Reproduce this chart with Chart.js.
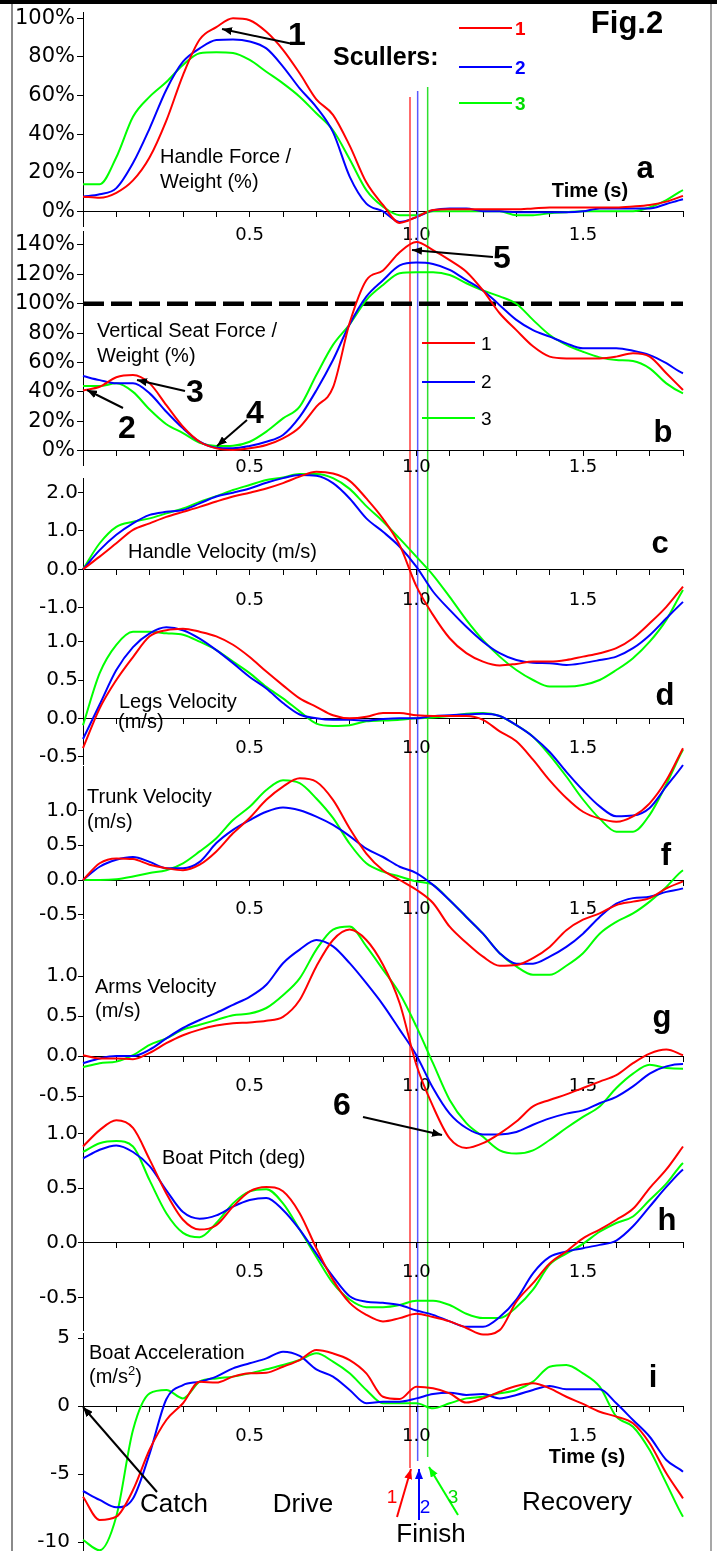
<!DOCTYPE html>
<html lang="en">
<head>
<meta charset="UTF-8" />
<title>Fig.2 Scullers</title>
<script src="https://cdn.jsdelivr.net/npm/chart.js"></script>
<style>
  body { margin: 0; background: #fff; }
  #page { position: relative; width: 717px; height: 1551px; overflow: hidden; background: #fff; }
  #page canvas { position: absolute; left: 0; top: -50px; }
  #overlay { position: absolute; left: 0; top: 0; font-family: 'Liberation Sans', Arial, sans-serif; }
  #overlay text { fill: #000; }
  .ttl { font-size: 20px; }
  .lt { font-size: 31px; font-weight: bold; }
  .num { font-size: 32px; font-weight: bold; }
  .phase { font-size: 26px; }
</style>
</head>
<body>
<div id="page">
  <canvas id="pa" width="717" height="1700"></canvas>
  <canvas id="pb" width="717" height="1700"></canvas>
  <canvas id="pc" width="717" height="1700"></canvas>
  <canvas id="pd" width="717" height="1700"></canvas>
  <canvas id="pf" width="717" height="1700"></canvas>
  <canvas id="pg" width="717" height="1700"></canvas>
  <canvas id="ph" width="717" height="1700"></canvas>
  <canvas id="pi" width="717" height="1700"></canvas>

  <svg id="overlay" width="717" height="1551">
    <defs>
      <marker id="hk" viewBox="0 0 10 8" refX="10" refY="4" markerWidth="5" markerHeight="4" orient="auto"><path d="M0,0L10,4L0,8z" fill="#000"/></marker>
      <marker id="hr" viewBox="0 0 10 8" refX="10" refY="4" markerWidth="5" markerHeight="4" orient="auto"><path d="M0,0L10,4L0,8z" fill="#ff0000"/></marker>
      <marker id="hb" viewBox="0 0 10 8" refX="10" refY="4" markerWidth="5" markerHeight="4" orient="auto"><path d="M0,0L10,4L0,8z" fill="#0000ff"/></marker>
      <marker id="hg" viewBox="0 0 10 8" refX="10" refY="4" markerWidth="5" markerHeight="4" orient="auto"><path d="M0,0L10,4L0,8z" fill="#00ff00"/></marker>
    </defs>

    <!-- frame -->
    <rect x="0" y="0" width="717" height="4" fill="#000"/>
    <line x1="12" y1="4" x2="12" y2="1551" stroke="#8a8a8a" stroke-width="2"/>
    <line x1="711" y1="4" x2="711" y2="1551" stroke="#8a8a8a" stroke-width="1.5"/>

    <!-- heading + legend -->
    <text x="627" y="33" text-anchor="middle" style="font-size:31px;font-weight:bold">Fig.2</text>
    <text x="333" y="65" style="font-size:25px;font-weight:bold">Scullers:</text>
    <line x1="459" y1="28" x2="512" y2="28" stroke="#ff0000" stroke-width="2"/>
    <line x1="459" y1="67" x2="512" y2="67" stroke="#0000ff" stroke-width="2"/>
    <line x1="459" y1="103" x2="512" y2="103" stroke="#00ff00" stroke-width="2"/>
    <text x="515" y="35" style="font-size:19px;font-weight:bold;fill:#ff0000">1</text>
    <text x="515" y="74" style="font-size:19px;font-weight:bold;fill:#0000ff">2</text>
    <text x="515" y="110" style="font-size:19px;font-weight:bold;fill:#00dd00">3</text>

    <line x1="422" y1="343" x2="475" y2="343" stroke="#ff0000" stroke-width="2"/>
    <line x1="422" y1="382" x2="475" y2="382" stroke="#0000ff" stroke-width="2"/>
    <line x1="422" y1="418" x2="475" y2="418" stroke="#00ff00" stroke-width="2"/>
    <text x="481" y="350" style="font-size:19px">1</text>
    <text x="481" y="388" style="font-size:19px">2</text>
    <text x="481" y="425" style="font-size:19px">3</text>

    <!-- panel titles -->
    <text class="ttl" x="160" y="163">Handle Force /</text>
    <text class="ttl" x="160" y="188">Weight (%)</text>
    <text class="ttl" x="97" y="337">Vertical Seat Force /</text>
    <text class="ttl" x="97" y="362">Weight (%)</text>
    <text class="ttl" x="128" y="558">Handle Velocity (m/s)</text>
    <text class="ttl" x="119" y="708">Legs Velocity</text>
    <text class="ttl" x="118" y="728">(m/s)</text>
    <text class="ttl" x="87" y="803">Trunk Velocity</text>
    <text class="ttl" x="87" y="828">(m/s)</text>
    <text class="ttl" x="95" y="993">Arms Velocity</text>
    <text class="ttl" x="95" y="1017">(m/s)</text>
    <text class="ttl" x="162" y="1164">Boat Pitch (deg)</text>
    <text class="ttl" x="89" y="1359">Boat Acceleration</text>
    <text class="ttl" x="89" y="1383">(m/s<tspan dy="-8" style="font-size:13px">2</tspan><tspan dy="8">)</tspan></text>

    <text x="590" y="197" text-anchor="middle" style="font-size:20px;font-weight:bold">Time (s)</text>
    <text x="587" y="1463" text-anchor="middle" style="font-size:20px;font-weight:bold">Time (s)</text>

    <!-- panel letters -->
    <text class="lt" x="645" y="178" text-anchor="middle">a</text>
    <text class="lt" x="663" y="442" text-anchor="middle">b</text>
    <text class="lt" x="660" y="553" text-anchor="middle">c</text>
    <text class="lt" x="665" y="705" text-anchor="middle">d</text>
    <text class="lt" x="666" y="865" text-anchor="middle">f</text>
    <text class="lt" x="662" y="1027" text-anchor="middle">g</text>
    <text class="lt" x="667" y="1230" text-anchor="middle">h</text>
    <text class="lt" x="653" y="1387" text-anchor="middle">i</text>

    <!-- numbered remarks -->
    <text class="num" x="297" y="45" text-anchor="middle">1</text>
    <line x1="293" y1="44" x2="222" y2="29" stroke="#000" stroke-width="2" marker-end="url(#hk)"/>
    <text class="num" x="502" y="268" text-anchor="middle">5</text>
    <line x1="493" y1="257" x2="412" y2="250" stroke="#000" stroke-width="2" marker-end="url(#hk)"/>
    <text class="num" x="195" y="402" text-anchor="middle">3</text>
    <line x1="185" y1="391" x2="137" y2="380" stroke="#000" stroke-width="2" marker-end="url(#hk)"/>
    <text class="num" x="127" y="438" text-anchor="middle">2</text>
    <line x1="123" y1="408" x2="87" y2="390" stroke="#000" stroke-width="2" marker-end="url(#hk)"/>
    <text class="num" x="255" y="423" text-anchor="middle">4</text>
    <line x1="247" y1="420" x2="217" y2="446" stroke="#000" stroke-width="2" marker-end="url(#hk)"/>
    <text class="num" x="342" y="1115" text-anchor="middle">6</text>
    <line x1="363" y1="1117" x2="442" y2="1135" stroke="#000" stroke-width="2" marker-end="url(#hk)"/>

    <!-- stroke phases -->
    <text class="phase" x="174" y="1512" text-anchor="middle">Catch</text>
    <line x1="157" y1="1492" x2="83" y2="1407" stroke="#000" stroke-width="2" marker-end="url(#hk)"/>
    <text class="phase" x="303" y="1512" text-anchor="middle">Drive</text>
    <text class="phase" x="577" y="1510" text-anchor="middle">Recovery</text>
    <text class="phase" x="431" y="1542" text-anchor="middle">Finish</text>
    <line x1="397" y1="1517" x2="411" y2="1469" stroke="#ff0000" stroke-width="2" marker-end="url(#hr)"/>
    <line x1="419" y1="1520" x2="419" y2="1469" stroke="#0000ff" stroke-width="2" marker-end="url(#hb)"/>
    <line x1="458" y1="1515" x2="429" y2="1467" stroke="#00ff00" stroke-width="2" marker-end="url(#hg)"/>
    <text x="392" y="1503" text-anchor="middle" style="font-size:19px;fill:#ff0000">1</text>
    <text x="425" y="1513" text-anchor="middle" style="font-size:19px;fill:#0000ff">2</text>
    <text x="453" y="1503" text-anchor="middle" style="font-size:19px;fill:#00dd00">3</text>
  </svg>
</div>

<script>
  // time base (s), shared by all panels
  const time = [0, 0.05, 0.1, 0.15, 0.2, 0.25, 0.3, 0.35, 0.4, 0.45, 0.5, 0.55, 0.6, 0.65, 0.7, 0.75, 0.8, 0.85, 0.9, 0.95,
                1.0, 1.05, 1.1, 1.15, 1.2, 1.25, 1.3, 1.35, 1.4, 1.45, 1.5, 1.55, 1.6, 1.65, 1.7, 1.75, 1.8, 1.85];
  const scullers = ['1', '2', '3'];
  const finishTimes = [0.981, 1.004, 1.034];
  const weightLevel = 100;

  // a - handle force / weight (%)
  const force1 = [7.6, 7, 9.6, 16, 28, 47, 70.6, 89, 95.4, 100, 99, 93, 83.7, 71.5, 58, 50, 34, 15, 3.3, -6, -3, 0.7, 1, 1, 1, 1, 1, 1.5, 2, 2, 2, 2, 2, 2.5, 3.3, 5, 8, null];
  const force2 = [7.6, 8.8, 12, 25, 43, 63, 77.5, 84.4, 88.7, 89, 88, 84.4, 75, 63.7, 54, 41, 18, 4, 0, -5.5, -3, 0.5, 1.5, 1.5, 0, 0, -0.5, -0.5, -0.5, -0.5, 0, 1.5, 1.5, 1.5, 1.5, 3.8, 6.2, 8];
  const force3 = [14, 14, 28, 49, 59.4, 67, 75.8, 81.9, 82.4, 82, 78.4, 72.3, 66.3, 59.4, 50.8, 42, 27, 11, 2.4, -2, -2, 0, 0, 0, 0, 0, -2, -2, -1, -0.5, 0, 0, 0, 0, 2, 5.8, 11, 14];

  // b - vertical seat force / weight (%)
  const seat1 = [41, 43.5, 50, 51.5, 45.8, 31, 16.3, 6.1, 1.6, 0.5, 1.6, 3.9, 8.4, 16, 30, 43, 87, 116, 122.6, 135, 142, 136.5, 129.7, 121.8, 109, 93.5, 82, 71, 64, 62.8, 62.8, 62.8, 64, 66.3, 64, 52.7, 41.3, null];
  const seat2 = [50.8, 48, 45.8, 45.8, 39, 26.5, 15.2, 6.1, 2, 1.6, 3.2, 6.1, 10.7, 23, 41, 61.7, 86, 104.8, 116, 126, 128, 127, 123, 116, 109, 99, 89, 82, 77.6, 73, 69.7, 69.7, 69.7, 68, 65, 59.5, 52.7, 50.8];
  const seat3 = [44, 44, 45.8, 40, 28, 18, 12, 5.4, 3.2, 3.4, 6.1, 13, 22, 30, 51.5, 72, 86, 102.5, 112.7, 120.7, 121.4, 121.4, 119.5, 113.9, 109, 105, 100, 89, 78.7, 72, 67.3, 63.5, 61.7, 61, 56, 45.8, 39, 36];

  // c - handle velocity (m/s)
  const handle1 = [0, 0.33, 0.68, 1.03, 1.2, 1.37, 1.5, 1.63, 1.77, 1.9, 2.0, 2.11, 2.25, 2.42, 2.55, 2.5, 2.31, 1.85, 1.32, 0.63, -0.44, -1.19, -1.8, -2.19, -2.41, -2.51, -2.47, -2.41, -2.41, -2.37, -2.28, -2.19, -2.06, -1.8, -1.41, -0.98, -0.45, null];
  const handle2 = [0, 0.5, 0.9, 1.2, 1.42, 1.5, 1.55, 1.72, 1.9, 2.0, 2.11, 2.26, 2.38, 2.46, 2.44, 2.25, 1.85, 1.33, 0.98, 0.59, 0.07, -0.58, -1.06, -1.5, -1.89, -2.19, -2.37, -2.44, -2.45, -2.5, -2.45, -2.37, -2.28, -2.06, -1.72, -1.28, -0.85, -0.45];
  const handle3 = [0, 0.68, 1.11, 1.24, 1.33, 1.46, 1.59, 1.76, 1.91, 2.07, 2.2, 2.33, 2.4, 2.49, 2.49, 2.38, 2.1, 1.65, 1.25, 0.8, 0.33, -0.15, -0.72, -1.32, -1.85, -2.28, -2.63, -2.89, -3.06, -3.06, -3.02, -2.89, -2.63, -2.32, -1.89, -1.32, -0.54, 0.1];

  // d - legs velocity (m/s)
  const legs1 = [-0.39, 0.13, 0.5, 0.8, 1.07, 1.15, 1.17, 1.13, 1.07, 0.96, 0.8, 0.61, 0.43, 0.26, 0.15, 0.04, 0, 0.02, 0.07, 0.07, 0.04, 0.03, 0.03, 0.03, -0.02, -0.17, -0.3, -0.54, -0.81, -1.04, -1.22, -1.31, -1.35, -1.28, -1.11, -0.81, -0.39, null];
  const legs2 = [-0.27, 0.18, 0.63, 0.93, 1.11, 1.19, 1.15, 1.04, 0.89, 0.72, 0.54, 0.39, 0.2, 0.05, 0, -0.02, -0.02, -0.03, -0.01, 0, 0, 0.03, 0.04, 0.05, 0.06, 0.03, -0.09, -0.24, -0.44, -0.7, -0.94, -1.15, -1.28, -1.27, -1.17, -0.89, -0.61, -0.27];
  const legs3 = [-0.09, 0.59, 0.96, 1.13, 1.13, 1.11, 1.09, 1.0, 0.89, 0.74, 0.59, 0.41, 0.26, 0.09, -0.07, -0.1, -0.09, -0.04, -0.03, -0.02, 0, 0.01, 0.03, 0.06, 0.07, 0.03, -0.09, -0.24, -0.48, -0.76, -1.06, -1.31, -1.48, -1.48, -1.26, -0.86, -0.41, -0.09];

  // f - trunk velocity (m/s)
  const trunk1 = [0, 0.24, 0.31, 0.3, 0.22, 0.17, 0.14, 0.22, 0.41, 0.67, 0.89, 1.15, 1.34, 1.46, 1.41, 1.15, 0.74, 0.38, 0.14, 0, -0.14, -0.33, -0.67, -0.9, -1.1, -1.23, -1.22, -1.12, -0.96, -0.72, -0.57, -0.48, -0.36, -0.31, -0.26, -0.12, -0.02, null];
  const trunk2 = [0, 0.19, 0.29, 0.33, 0.26, 0.17, 0.17, 0.26, 0.53, 0.72, 0.86, 0.98, 1.04, 1.0, 0.91, 0.79, 0.63, 0.45, 0.33, 0.19, 0.1, -0.07, -0.29, -0.53, -0.77, -1.05, -1.2, -1.2, -1.1, -0.96, -0.77, -0.53, -0.34, -0.26, -0.24, -0.17, -0.12, -0.02];
  const trunk3 = [0, 0, 0.01, 0.05, 0.1, 0.14, 0.24, 0.41, 0.6, 0.86, 1.05, 1.29, 1.43, 1.39, 1.17, 0.89, 0.52, 0.24, 0.12, 0.05, -0.02, -0.07, -0.29, -0.53, -0.77, -1.05, -1.24, -1.36, -1.36, -1.23, -1.05, -0.77, -0.6, -0.48, -0.31, -0.1, 0.14, 0.2];

  // g - arms velocity (m/s)
  const arms1 = [0.01, -0.03, -0.03, -0.04, 0.04, 0.16, 0.26, 0.33, 0.38, 0.41, 0.42, 0.44, 0.49, 0.7, 1.12, 1.45, 1.58, 1.45, 1.14, 0.66, -0.11, -0.63, -1.03, -1.15, -1.09, -0.97, -0.82, -0.63, -0.55, -0.48, -0.4, -0.32, -0.24, -0.09, 0.03, 0.08, 0.01, null];
  const arms2 = [-0.09, -0.03, 0, 0, 0.08, 0.22, 0.35, 0.45, 0.54, 0.64, 0.74, 0.89, 1.16, 1.33, 1.45, 1.37, 1.16, 0.91, 0.64, 0.33, 0.01, -0.4, -0.72, -0.9, -0.98, -0.98, -0.95, -0.86, -0.78, -0.72, -0.68, -0.59, -0.51, -0.38, -0.22, -0.13, -0.1, -0.1];
  const arms3 = [-0.14, -0.09, -0.07, 0.01, 0.14, 0.22, 0.33, 0.39, 0.45, 0.51, 0.53, 0.6, 0.76, 0.97, 1.33, 1.58, 1.62, 1.37, 1.08, 0.78, 0.37, -0.09, -0.55, -0.84, -1.01, -1.18, -1.22, -1.18, -1.05, -0.9, -0.76, -0.63, -0.4, -0.22, -0.11, -0.15, -0.16, -0.14];

  // h - boat pitch (deg)
  const pitch1 = [0.88, 1.03, 1.12, 1.05, 0.76, 0.45, 0.21, 0.12, 0.16, 0.33, 0.47, 0.51, 0.47, 0.27, -0.05, -0.34, -0.55, -0.66, -0.72, -0.69, -0.65, -0.68, -0.72, -0.78, -0.84, -0.8, -0.54, -0.37, -0.19, -0.08, 0.04, 0.12, 0.21, 0.31, 0.5, 0.67, 0.88, null];
  const pitch2 = [0.77, 0.85, 0.89, 0.83, 0.7, 0.48, 0.28, 0.22, 0.25, 0.33, 0.39, 0.41, 0.3, 0.12, -0.1, -0.31, -0.49, -0.54, -0.55, -0.57, -0.62, -0.66, -0.72, -0.77, -0.77, -0.68, -0.52, -0.28, -0.13, -0.08, -0.05, -0.02, 0.02, 0.15, 0.33, 0.51, 0.67, 0.77];
  const pitch3 = [0.83, 0.91, 0.93, 0.88, 0.57, 0.27, 0.09, 0.05, 0.18, 0.36, 0.47, 0.49, 0.36, 0.12, -0.13, -0.37, -0.52, -0.59, -0.59, -0.57, -0.53, -0.53, -0.57, -0.65, -0.69, -0.69, -0.59, -0.43, -0.2, -0.1, -0.01, 0.1, 0.18, 0.24, 0.39, 0.54, 0.73, 0.83];

  // i - boat acceleration (m/s2)
  const accel1 = [-6.67, -8.38, -8.14, -6.18, -3.2, -1.03, 0.2, 1.79, 1.72, 2.16, 2.4, 2.45, 2.89, 3.38, 4.12, 3.87, 3.38, 2.4, 0.68, 0.51, 1.42, 1.3, 0.93, 0.25, 0.56, 1.05, 1.47, 1.67, 1.3, 0.68, 0.15, -0.42, -0.78, -1.27, -2.74, -4.95, -6.79, null];
  const accel2 = [-6.25, -6.91, -7.45, -6.8, -3.5, 0.5, 1.54, 1.79, 2.16, 2.77, 3.14, 3.5, 3.99, 3.68, 2.7, 2.16, 1.18, 0.2, 0.32, 0.32, 0.56, 0.88, 0.98, 0.81, 0.88, 0.56, 0.81, 1.18, 1.47, 1.23, 1.23, 1.23, 0.2, -1.03, -2.26, -3.97, -4.83, -6.18];
  const accel3 = [-9.85, -10.6, -8.1, -1.76, 0.93, 1.18, 0.56, 1.79, 2.03, 2.16, 2.4, 2.7, 3.01, 3.38, 3.87, 3.26, 2.4, 1.18, 0.2, 0.2, 0.2, -0.17, 0.2, 0.56, 0.68, 0.93, 1.18, 1.79, 2.89, 3.01, 2.4, 1.42, -0.78, -1.52, -3.24, -5.69, -8.14, -9.73];

  // tick labels
  const timeTickLabels = ['0.5', '1.0', '1.5'];
  const percentTicks = [0, 20, 40, 60, 80, 100];
  const seatTicks = [0, 20, 40, 60, 80, 100, 120, 140];
  const handleTicks = [-1, 0, 1, 2];
  const halfTicks = [-0.5, 0, 0.5, 1];
  const accelTicks = [-10, -5, 0, 5];

  const colors = ['#ff0000', '#0000ff', '#00ff00'];
  const finishColors = ['#ff3a3a', '#5a5aff', '#2ee02e'];
  const finishSpan = [[97, 1468], [91, 1461], [87, 1457]];
  const OFFSET = 50, CANVAS_H = 1700;

  Chart.defaults.font.family = "'DejaVu Sans', sans-serif";
  Chart.defaults.color = '#000';

  const pct = v => v + '%';
  const one = v => v.toFixed(1);

  // page geometry of each panel: pixel row of y=0, pixels per unit, axis range
  const panels = [
    { id: 'pa', series: [force1, force2, force3], ticks: percentTicks, fmt: pct, zero: 211.3, ppu: 1.93, min: -8, max: 103, xPad: 8, yFont: 21, yTick: 6, yPad: 2 },
    { id: 'pb', series: [seat1, seat2, seat3], ticks: seatTicks, fmt: pct, zero: 450.7, ppu: 1.47, min: -10, max: 149, xPad: 1, yFont: 21, yTick: 6, yPad: 2 },
    { id: 'pc', series: [handle1, handle2, handle3], ticks: handleTicks, fmt: one, zero: 569.3, ppu: 38.3, min: -1.05, max: 2.38, xPad: 15, yFont: 20, yTick: 5, yPad: 0 },
    { id: 'pd', series: [legs1, legs2, legs3], ticks: halfTicks, fmt: one, zero: 718.3, ppu: 76.6, min: -0.6, max: 1.5, xPad: 14, yFont: 20, yTick: 5, yPad: 0 },
    { id: 'pf', series: [trunk1, trunk2, trunk3], ticks: halfTicks, fmt: one, zero: 880, ppu: 69.7, min: -0.55, max: 1.63, xPad: 14, yFont: 20, yTick: 5, yPad: 0 },
    { id: 'pg', series: [arms1, arms2, arms3], ticks: halfTicks, fmt: one, zero: 1056, ppu: 80, min: -0.5, max: 1.7, xPad: 15, yFont: 20, yTick: 5, yPad: 0 },
    { id: 'ph', series: [pitch1, pitch2, pitch3], ticks: halfTicks, fmt: one, zero: 1242.7, ppu: 109.3, min: -0.8, max: 1.49, xPad: 14, yFont: 20, yTick: 5, yPad: 0 },
    { id: 'pi', series: [accel1, accel2, accel3], ticks: accelTicks, fmt: v => String(v), zero: 1406, ppu: 13.6, min: -10.7, max: 5.3, xPad: 15, yFont: 20, yTick: 5, yPad: 8 }
  ];

  const finishPlugin = {
    id: 'finishLines',
    afterDatasetsDraw(chart) {
      const ctx = chart.ctx, xs = chart.scales.x;
      finishTimes.forEach((t, i) => {
        const x = xs.getPixelForValue(t);
        ctx.save();
        ctx.strokeStyle = finishColors[i];
        ctx.lineWidth = 1.5;
        ctx.beginPath();
        ctx.moveTo(x, finishSpan[i][0] + OFFSET);
        ctx.lineTo(x, finishSpan[i][1] + OFFSET);
        ctx.stroke();
        ctx.restore();
      });
    }
  };

  function makePanel(p, extra, plugins) {
    const top = p.zero - p.max * p.ppu;
    const bottom = p.zero - p.min * p.ppu;
    const datasets = p.series.map((s, i) => ({
      label: 'Sculler ' + scullers[i],
      data: time.map((t, k) => ({ x: t, y: s[k] })),
      borderColor: colors[i],
      borderWidth: 2,
      pointRadius: 0,
      fill: false,
      cubicInterpolationMode: 'monotone',
      clip: false
    }));
    if (extra) datasets.push(...extra);

    return new Chart(document.getElementById(p.id), {
      type: 'line',
      data: { datasets },
      plugins: plugins || [],
      options: {
        responsive: false,
        animation: false,
        devicePixelRatio: 1,
        events: [],
        layout: {
          autoPadding: false,
          padding: { left: 3, right: 34, top: top + OFFSET, bottom: CANVAS_H - OFFSET - bottom }
        },
        plugins: { legend: { display: false }, tooltip: { enabled: false } },
        scales: {
          x: {
            type: 'linear', min: 0, max: 1.8,
            position: { y: 0 },
            ticks: {
              stepSize: 0.1, autoSkip: false, maxRotation: 0, padding: p.xPad,
              font: { size: 18 },
              callback: v => {
                const s = v.toFixed(1);
                return timeTickLabels.includes(s) ? s : '';
              }
            },
            grid: { drawOnChartArea: false, drawTicks: true, tickLength: 5, color: '#000' },
            border: { display: true, color: '#000', width: 1 }
          },
          y: {
            type: 'linear', min: p.min, max: p.max,
            afterFit: s => { s.width = 80; },
            afterBuildTicks: s => { s.ticks = p.ticks.map(v => ({ value: v })); },
            ticks: { padding: p.yPad, font: { size: p.yFont }, callback: p.fmt },
            grid: { drawOnChartArea: false, tickLength: p.yTick, color: '#000' },
            border: { display: true, color: '#000', width: 1 }
          }
        }
      }
    });
  }

  makePanel(panels[0], null, [finishPlugin]);
  makePanel(panels[1], [{
    label: 'Body weight',
    data: [{ x: 0, y: weightLevel }, { x: 1.8, y: weightLevel }],
    borderColor: '#000', borderWidth: 4.5, borderDash: [21, 7], pointRadius: 0, clip: false
  }]);
  panels.slice(2).forEach(p => makePanel(p));
</script>
</body>
</html>
